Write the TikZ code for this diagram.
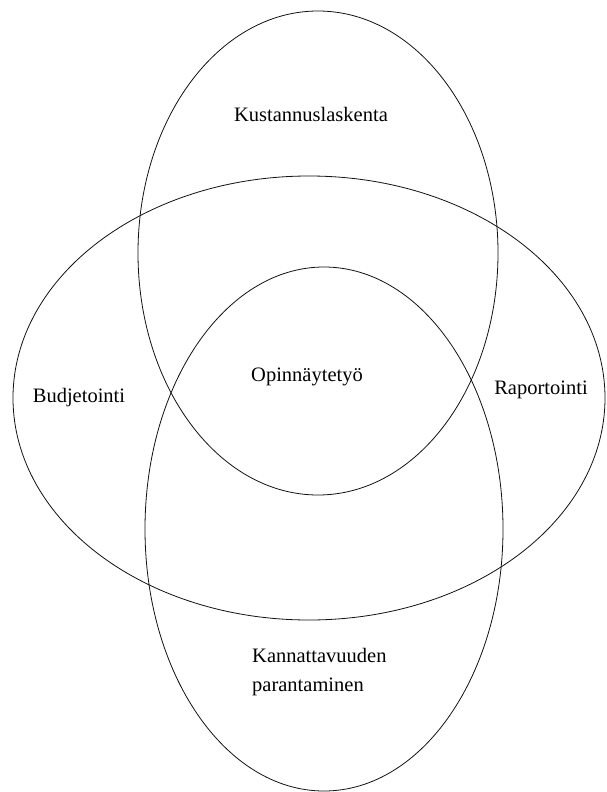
\documentclass[tikz,border=0pt]{standalone}
\usepackage{fontspec}
\setmainfont{Liberation Serif}
\definecolor{vennline}{HTML}{111111}
\tikzset{
  ring/.style={draw=vennline, line width=0.8pt},
  label/.style={inner sep=0pt, font=\fontsize{20.5}{29}\selectfont, text=black},
  multiline/.style={label, align=left}
}

\begin{document}
\begin{tikzpicture}[x=1pt, y=-1pt]
\useasboundingbox (0,0) rectangle (606,792);

\coordinate (topc) at (318,253);
\coordinate (midc) at (309,398);
\coordinate (botc) at (324,529);

\draw[ring] (topc) ellipse [x radius=180, y radius=242];
\draw[ring] (midc) ellipse [x radius=296, y radius=222];
\draw[ring] (botc) ellipse [x radius=179, y radius=262];

\node[label] (kust) at (311,114) {Kustannuslaskenta};
\node[label] (budj) at (79,398) {Budjetointi};
\node[label] (rapo) at (541,390) {Raportointi};
\node[label] (opin) at (307,377) {Opinnäytetyö};
\node[multiline, anchor=west] (kann) at (252,672) {Kannattavuuden\\parantaminen};

\end{tikzpicture}
\end{document}
